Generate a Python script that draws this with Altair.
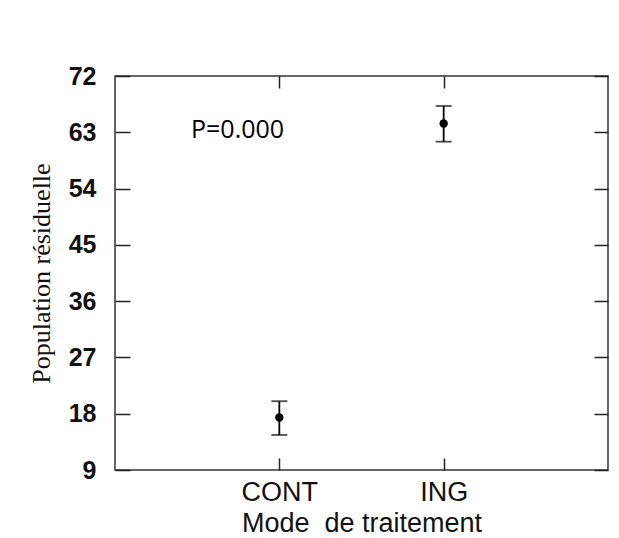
import altair as alt
import pandas as pd

# ---- data ----
groups = ["CONT", "ING"]
positions = [1, 2]
means = [17.4, 64.4]
lower = [14.6, 61.5]
upper = [20.0, 67.2]
y_ticks = [9, 18, 27, 36, 45, 54, 63, 72]
p_text = "P=0.000"

df = pd.DataFrame({"group": groups, "pos": positions, "mean": means,
                   "lower": lower, "upper": upper})

label_expr = " : ".join(
    [f"datum.value == {p} ? '{g}'" for p, g in zip(positions, groups)]) + " : ''"

xscale = alt.Scale(domain=[0, 3], nice=False, zero=False)
yscale = alt.Scale(domain=[9, 72], nice=False, zero=False)

FONT = "Liberation Sans"

x_bottom = alt.Axis(values=positions, labelExpr=label_expr, tickSize=12, offset=-12,
                    domain=False, grid=False, tickColor="#222", tickWidth=1.5,
                    labelPadding=9, labelFont=FONT, labelFontSize=27, labelColor="#111",
                    title="Mode\u00a0 de traitement", titleFont=FONT, titleFontSize=27,
                    titleFontWeight="normal", titleColor="#111", titlePadding=5)
y_left = alt.Axis(values=y_ticks, tickSize=15, offset=-15, domain=False, grid=False,
                  tickColor="#222", tickWidth=1.5, labelPadding=19, labelFont=FONT,
                  labelFontSize=25, labelFontWeight="bold", labelColor="#111",
                  title="Population résiduelle", titleFont="Liberation Serif",
                  titleFontSize=26, titleFontWeight="normal", titleColor="#111",
                  titlePadding=14)
x_top = alt.Axis(orient="top", values=positions, tickSize=12, offset=-12, domain=False,
                 grid=False, labels=False, title=None, tickColor="#222", tickWidth=1.5)
y_right = alt.Axis(orient="right", values=y_ticks, tickSize=14, offset=-14, domain=False,
                   grid=False, labels=False, title=None, tickColor="#222", tickWidth=1.5)

base = alt.Chart(df)

points = base.mark_point(filled=True, color="black", size=70, opacity=1).encode(
    x=alt.X("pos:Q", scale=xscale, axis=x_bottom),
    y=alt.Y("mean:Q", scale=yscale, axis=y_left),
)

bars = base.mark_rule(color="black", strokeWidth=1.8).encode(
    x=alt.X("pos:Q", scale=xscale, axis=x_top),
    y=alt.Y("lower:Q", scale=yscale, axis=y_right),
    y2="upper:Q",
)

cap_lo = base.mark_tick(color="black", orient="horizontal", size=16, thickness=1.8).encode(
    x=alt.X("pos:Q", scale=xscale, axis=None),
    y=alt.Y("lower:Q", scale=yscale, axis=None),
)
cap_hi = base.mark_tick(color="black", orient="horizontal", size=16, thickness=1.8).encode(
    x=alt.X("pos:Q", scale=xscale, axis=None),
    y=alt.Y("upper:Q", scale=yscale, axis=None),
)

ptxt = alt.Chart(pd.DataFrame({"t": [p_text]})).mark_text(
    align="left", baseline="middle", font="Open Sans", fontSize=25, color="black"
).encode(text="t:N", x=alt.value(76), y=alt.value(54))

chart = alt.layer(points, bars, cap_lo, cap_hi, ptxt).resolve_axis(
    x="independent", y="independent"
).properties(
    width=493, height=394,
    autosize=alt.AutoSizeParams(type="none"),
    padding={"left": 115, "top": 76, "right": 11, "bottom": 68},
    background="white",
).configure_view(stroke="#333333", strokeWidth=1.5)

chart.save("out.html", embed_options={"renderer": "svg", "actions": False})
